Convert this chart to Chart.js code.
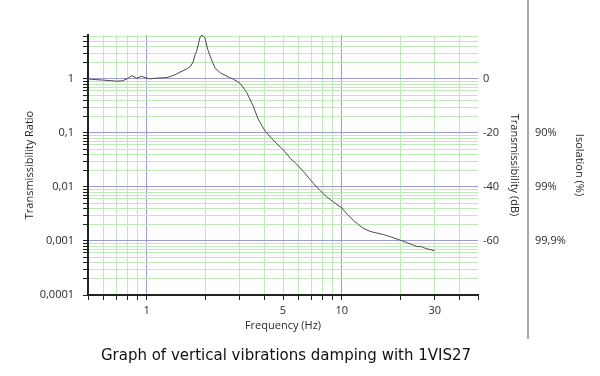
<!DOCTYPE html>
<html>
<head>
<meta charset="utf-8">
<script src="https://cdn.jsdelivr.net/npm/chart.js@4/dist/chart.umd.min.js"></script>
<style>
  html, body { margin: 0; padding: 0; background: #ffffff; }
  #wrap { width: 600px; height: 376px; }
</style>
</head>
<body>
<div id="wrap"><canvas id="c" width="600" height="376"></canvas></div>
<script>
// ---- data ----
const frequencyHz = [0.5, 0.55, 0.6, 0.65, 0.7, 0.75, 0.8, 0.84, 0.89, 0.94, 0.98, 1.04, 1.1, 1.17, 1.27, 1.38, 1.48, 1.6, 1.67, 1.73, 1.77, 1.8, 1.88, 1.92, 1.99, 2.06, 2.15, 2.24, 2.38, 2.52, 2.65, 2.78, 3.01, 3.26, 3.52, 3.73, 4.05, 4.55, 5.12, 5.44, 5.87, 6.35, 7.15, 7.7, 8.36, 9.1, 10, 10.7, 11.5, 12.2, 12.9, 14, 15.2, 16.4, 18, 19.9, 21.5, 23.4, 24.6, 25.2, 26, 27.3, 28.5, 29.9];
const transmissibility = [1.0, 0.97, 0.95, 0.93, 0.91, 0.92, 1.02, 1.15, 1.03, 1.12, 1.06, 1.0, 1.03, 1.04, 1.06, 1.17, 1.33, 1.52, 1.69, 2.05, 2.8, 3.2, 6.0, 6.5, 5.7, 3.45, 2.25, 1.6, 1.3, 1.17, 1.07, 0.99, 0.83, 0.56, 0.31, 0.18, 0.108, 0.068, 0.045, 0.034, 0.0265, 0.0195, 0.0117, 0.0088, 0.0066, 0.0052, 0.0041, 0.0031, 0.0024, 0.002, 0.00172, 0.0015, 0.0014, 0.00131, 0.00118, 0.00104, 0.00094, 0.00083, 0.00078, 0.0008, 0.00076, 0.00072, 0.00069, 0.00066];

const xLabelValues = [1, 5, 10, 30];
const xLabelTexts = ['1', '5', '10', '30'];
const yLabelValues = [1, 0.1, 0.01, 0.001, 0.0001];
const yLabelTexts = ['1', '0,1', '0,01', '0,001', '0,0001'];
const dbTickValues = [0, -20, -40, -60];
const dbTickTexts = ['0', '-20', '-40', '-60'];
const isolationTickValues = [-20, -40, -60];
const isolationTickTexts = ['90%', '99%', '99,9%'];

const xMin = 0.5, xMax = 50;
const yMin = 0.0001, yMax = 6.5;

const chartTitle = 'Graph of vertical vibrations damping with 1VIS27';
const xTitle = 'Frequency (Hz)';
const yTitle = 'Transmissibility Ratio';
const dbTitle = 'Transmissibility (dB)';
const isoTitle = 'Isolation (%)';

// ---- styling ----
const FONT = "'Open Sans', 'DejaVu Sans', sans-serif";
const CAPTION_FONT = "'DejaVu Sans', 'Open Sans', sans-serif";
const TXT = '#2a2a2a';
const GREEN = '#bfe9b8';
const BLUE = '#9c9cd4';
const AXIS = '#222222';

function decadeSteps(lo, hi) {
  const out = [];
  for (let e = Math.floor(Math.log10(lo)); e <= Math.ceil(Math.log10(hi)); e++) {
    for (let m = 1; m <= 9; m++) {
      const v = +(m * Math.pow(10, e)).toPrecision(6);
      if (v >= lo - 1e-12 && v <= hi + 1e-12) out.push(v);
    }
  }
  return out;
}
const isDecade = v => Math.abs(Math.log10(v) - Math.round(Math.log10(v))) < 1e-9;
function labelFor(values, texts, v) {
  for (let i = 0; i < values.length; i++) {
    if (Math.abs(values[i] - v) / Math.abs(values[i] || 1) < 1e-6) return texts[i];
  }
  return '';
}

const xTickList = decadeSteps(xMin, xMax);
const yTickList = decadeSteps(yMin, yMax);

const dbMin = 20 * Math.log10(yMin);
const dbMax = 20 * Math.log10(yMax);

const captionPlugin = {
  id: 'caption',
  afterDraw(chart) {
    const ctx = chart.ctx;
    const y3 = chart.scales.y3;
    ctx.save();
    // separator line
    ctx.strokeStyle = '#a8a8a8';
    ctx.lineWidth = 2;
    ctx.beginPath();
    ctx.moveTo(y3.left, 0);
    ctx.lineTo(y3.left, chart.scales.x.bottom);
    ctx.stroke();
    // caption
    ctx.fillStyle = '#111111';
    ctx.font = "15px " + CAPTION_FONT;
    ctx.textAlign = 'center';
    ctx.textBaseline = 'middle';
    ctx.fillText(chartTitle, 286, 356);
    ctx.restore();
  }
};

new Chart(document.getElementById('c'), {
  type: 'line',
  data: {
    datasets: [{
      data: frequencyHz.map((f, i) => ({ x: f, y: transmissibility[i] })),
      borderColor: '#4a4a4a',
      borderWidth: 1,
      pointRadius: 0,
      tension: 0,
      fill: false
    }]
  },
  plugins: [captionPlugin],
  options: {
    responsive: false,
    animation: false,
    events: [],
    layout: { padding: { top: 35, bottom: 37, left: 0, right: 0 } },
    plugins: { legend: { display: false }, tooltip: { enabled: false }, title: { display: false } },
    scales: {
      x: {
        type: 'logarithmic',
        position: 'bottom',
        min: xMin, max: xMax,
        afterBuildTicks: s => { s.ticks = xTickList.map(v => ({ value: v })); },
        afterFit: s => { s.height = 44; },
        ticks: {
          autoSkip: false, maxRotation: 0, minRotation: 0, padding: 4,
          color: TXT, font: { family: FONT, size: 11 },
          callback: v => labelFor(xLabelValues, xLabelTexts, v)
        },
        grid: {
          drawOnChartArea: true, drawTicks: true, tickLength: 5,
          lineWidth: 1, tickWidth: 1, tickColor: AXIS,
          color: c => {
            const v = c.tick ? c.tick.value : 0;
            if (Math.abs(v - xMin) < 1e-9 || Math.abs(v - xMax) < 1e-9) return 'rgba(0,0,0,0)';
            return isDecade(v) ? BLUE : GREEN;
          }
        },
        border: { display: true, color: AXIS, width: 2 },
        title: { display: true, text: xTitle, color: TXT, font: { family: FONT, size: 11 }, padding: { top: 0, bottom: 7 } }
      },
      y: {
        type: 'logarithmic',
        position: 'left',
        min: yMin, max: yMax,
        afterBuildTicks: s => { s.ticks = yTickList.map(v => ({ value: v })); },
        afterFit: s => { s.width = 88; },
        ticks: {
          autoSkip: false, padding: 9,
          color: TXT, font: { family: FONT, size: 11 },
          callback: v => labelFor(yLabelValues, yLabelTexts, v)
        },
        grid: {
          drawOnChartArea: true, drawTicks: true, tickLength: 5,
          lineWidth: 1, tickWidth: 1, tickColor: AXIS,
          color: c => {
            const v = c.tick ? c.tick.value : 1;
            if (Math.abs(v - yMin) < 1e-12) return 'rgba(0,0,0,0)';
            return isDecade(v) ? BLUE : GREEN;
          }
        },
        border: { display: true, color: AXIS, width: 2 },
        title: { display: true, text: yTitle, color: TXT, font: { family: FONT, size: 11 }, padding: { top: 23, bottom: 0 } }
      },
      y2: {
        type: 'linear',
        position: 'right',
        min: dbMin, max: dbMax,
        afterBuildTicks: s => { s.ticks = dbTickValues.map(v => ({ value: v })); },
        afterFit: s => { s.width = 50; },
        ticks: {
          autoSkip: false, padding: 5,
          color: TXT, font: { family: FONT, size: 11 },
          callback: v => labelFor(dbTickValues, dbTickTexts, v)
        },
        grid: { display: false, drawTicks: false },
        border: { display: false },
        title: { display: true, text: dbTitle, color: TXT, font: { family: FONT, size: 11 }, padding: { top: 7, bottom: 0 } }
      },
      y3: {
        type: 'linear',
        position: 'right',
        min: dbMin, max: dbMax,
        afterBuildTicks: s => { s.ticks = isolationTickValues.map(v => ({ value: v })); },
        afterFit: s => { s.width = 72; },
        ticks: {
          autoSkip: false, padding: 7,
          color: TXT, font: { family: FONT, size: 11 },
          callback: v => labelFor(isolationTickValues, isolationTickTexts, v)
        },
        grid: { display: false, drawTicks: false },
        border: { display: false },
        title: { display: true, text: isoTitle, color: TXT, font: { family: FONT, size: 11 }, padding: { top: 14, bottom: 0 } }
      }
    }
  }
});
</script>
</body>
</html>
